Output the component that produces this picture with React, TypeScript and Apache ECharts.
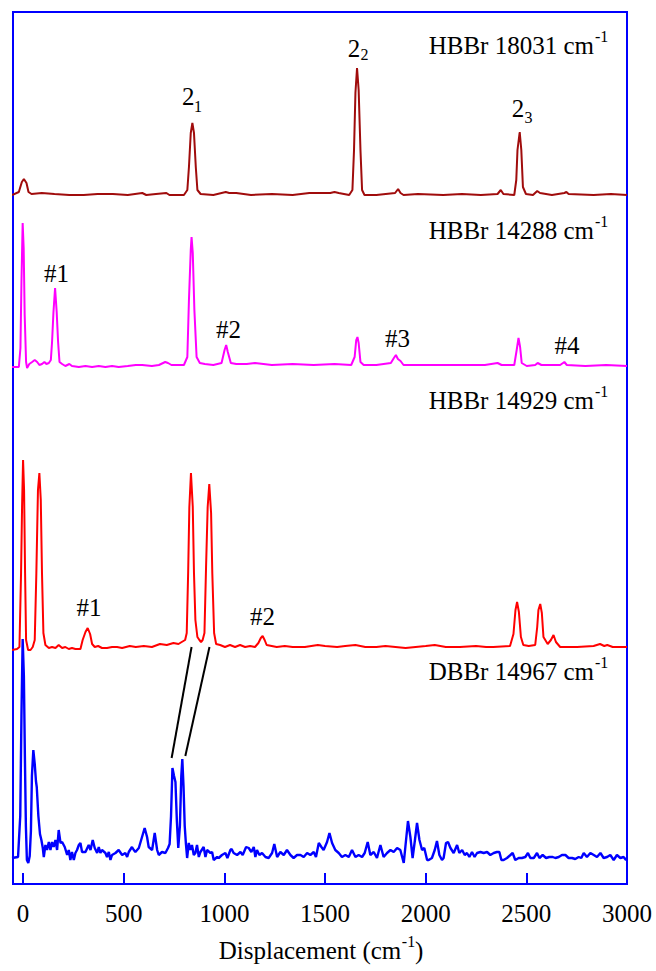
import React, { useEffect, useRef } from 'react';
import * as echarts from 'echarts';

// ---------- data (x: displacement in cm-1, y: intensity above each trace's own baseline, a.u.) ----------
const xTicks = [0, 500, 1000, 1500, 2000, 2500, 3000];

// vertical stacking offsets of each trace (a.u.)
const offsetHBBr18031 = 689;
const offsetHBBr14288 = 518;
const offsetHBBr14929 = 237;
const offsetDBBr14967 = 28;

const hbbr18031: number[][] = [
  [-55, 0], [-21, 3], [-6, 13], [4, 16], [17, 12], [27, 3], [42, 1], [93, 2], [156, 1], [230, 0], [301, 0],
  [370, 1], [446, 1], [520, 0], [592, 2], [612, 0], [660, 1], [712, 2], [727, 0], [799, 0], [816, 5],
  [824, 28], [833, 62], [841, 72], [849, 62], [858, 28], [866, 5], [882, 1], [945, 0], [1007, 3], [1024, 2],
  [1059, 2], [1132, 0], [1236, 1], [1339, 0], [1422, 2], [1526, 2], [1547, 3], [1568, 2], [1620, 0],
  [1636, 5], [1644, 45], [1651, 102], [1659, 127], [1667, 105], [1676, 45], [1684, 5], [1696, 0], [1755, 0],
  [1848, 2], [1863, 6], [1875, 2], [1890, 0], [1962, 1], [2087, 0], [2180, 1], [2274, 0], [2357, 1],
  [2373, 5], [2386, 1], [2440, 0], [2450, 15], [2456, 45], [2467, 63], [2475, 45], [2483, 8], [2498, 1],
  [2533, 0], [2554, 4], [2568, 2], [2627, 0], [2689, 2], [2699, 3], [2710, 1], [2834, 0], [2920, 1], [3000, 0],
];

const hbbr14288: number[][] = [
  [-55, -1], [-21, -1], [-13, 18], [-8, 84], [-2, 143], [3, 118], [8, 51], [15, 4], [20, -2], [31, 2],
  [45, 4], [58, 6], [70, 4], [81, 1], [94, 2], [106, 4], [116, 2], [128, 3], [138, 6], [144, 24], [151, 54],
  [159, 78], [167, 54], [174, 24], [181, 4], [194, 2], [210, 0], [230, 2], [243, 0], [277, -1], [310, 0],
  [343, -1], [376, 0], [409, -1], [442, 0], [475, -1], [520, 0], [560, 1], [592, 1], [640, 0], [675, 1],
  [706, 4], [720, 3], [737, 1], [799, 1], [816, 9], [824, 66], [833, 116], [837, 129], [843, 113], [851, 56],
  [862, 9], [878, 3], [903, 2], [945, 1], [986, 3], [1001, 16], [1009, 21], [1017, 14], [1032, 3], [1059, 2],
  [1111, 2], [1152, 3], [1236, 1], [1339, 2], [1443, 1], [1547, 2], [1630, 1], [1647, 9], [1655, 26],
  [1661, 29], [1667, 23], [1676, 4], [1692, 1], [1755, 1], [1827, 3], [1842, 8], [1852, 11], [1862, 7],
  [1875, 5], [1890, 1], [1962, 1], [2066, 1], [2170, 1], [2294, 1], [2357, 3], [2377, 1], [2440, 1],
  [2452, 16], [2461, 28], [2469, 19], [2477, 3], [2502, 0], [2544, 1], [2556, 3], [2575, 1], [2668, 1],
  [2689, 4], [2701, 1], [2793, 0], [2897, 1], [3000, 0],
];

const hbbr14929: number[][] = [
  [-55, -3], [-30, -2], [-18, 0], [-10, 74], [-5, 140], [0, 187], [5, 157], [10, 74], [15, 7], [25, -3],
  [37, -3], [48, 0], [58, 7], [66, 74], [74, 157], [81, 174], [88, 147], [94, 74], [101, 14], [111, 2],
  [128, -1], [144, 0], [161, -1], [177, 2], [194, -1], [210, 0], [227, -2], [243, -1], [260, -2], [285, -2],
  [296, 7], [310, 15], [321, 19], [333, 13], [343, 3], [356, 0], [373, 1], [392, -1], [417, -1], [442, 0],
  [467, 0], [492, -1], [530, 1], [560, 0], [600, 1], [640, 0], [680, 3], [714, 2], [747, 4], [772, 3],
  [788, 5], [805, 7], [813, 14], [820, 74], [826, 140], [834, 174], [843, 140], [849, 74], [856, 27],
  [866, 10], [876, 7], [884, 5], [892, 7], [901, 14], [909, 80], [917, 140], [925, 163], [934, 134],
  [940, 74], [949, 14], [959, 3], [979, 2], [1003, 0], [1028, 2], [1053, 0], [1078, 2], [1103, 0], [1128, 1],
  [1152, 0], [1169, 4], [1181, 9], [1190, 11], [1200, 7], [1210, 2], [1235, 1], [1260, 0], [1300, 1],
  [1339, 0], [1400, 0], [1464, 2], [1500, 1], [1560, 0], [1600, 1], [1651, 2], [1700, 0], [1755, 0],
  [1800, 1], [1850, 0], [1900, -1], [1950, 0], [2000, 1], [2045, 2], [2100, 0], [2170, 0], [2250, 1],
  [2300, 0], [2336, 0], [2419, 1], [2436, 13], [2446, 37], [2454, 45], [2463, 35], [2473, 10], [2485, 2],
  [2512, 1], [2544, 2], [2554, 20], [2560, 37], [2569, 43], [2577, 34], [2585, 10], [2606, 3], [2622, 7],
  [2635, 12], [2647, 5], [2668, 0], [2752, 0], [2834, 1], [2866, 3], [2887, 1], [2902, 2], [2929, 0], [3000, 0],
];

const dbbr14967: number[][] = [
  [-55, -2], [-25, -1], [-14, 40], [-8, 140], [-2, 217], [4, 180], [9, 100], [14, 30], [19, -4], [26, -7],
  [33, 0], [39, 25], [44, 80], [51, 106], [58, 92], [64, 75], [68, 69], [76, 40], [84, 22], [91, 16],
  [98, 8], [103, -1], [111, 11], [119, 6], [128, 14], [136, 6], [144, 14], [152, 9], [161, 16], [169, 6],
  [177, 26], [186, 13], [194, 14], [207, 9], [219, 1], [227, 6], [235, -4], [243, 4], [252, -4], [260, 3],
  [268, 6], [277, 11], [285, 13], [293, 4], [310, 4], [326, 11], [335, 6], [346, 16], [356, 8], [368, 3],
  [376, 9], [384, 3], [392, 6], [409, 3], [417, -1], [426, 4], [434, -4], [442, 1], [459, 3], [475, 6],
  [492, 1], [508, 3], [517, -1], [525, 4], [541, 9], [550, 6], [558, 4], [575, 8], [591, 19], [604, 28],
  [616, 19], [624, 9], [641, 6], [654, 23], [666, 6], [674, 1], [690, 4], [707, 3], [720, 8], [728, 12],
  [735, 40], [742, 88], [750, 80], [757, 74], [764, 35], [771, 8], [779, 30], [786, 80], [791, 97],
  [797, 70], [803, 30], [809, 12], [815, -2], [823, 13], [831, 6], [839, 11], [848, 1], [856, 3], [864, 11],
  [873, -1], [881, 4], [897, 9], [906, -1], [914, 6], [931, 3], [939, 4], [947, -4], [964, -1], [972, -2],
  [988, 1], [1005, 3], [1015, -2], [1030, 6], [1036, 7], [1046, 3], [1063, 1], [1080, 4], [1091, 1],
  [1108, 9], [1121, 8], [1134, 4], [1146, 9], [1154, -1], [1162, 6], [1174, 1], [1187, 3], [1204, -1],
  [1220, -2], [1237, 3], [1248, 12], [1262, -1], [1278, 4], [1295, 1], [1311, 6], [1328, 1], [1344, -2],
  [1361, 1], [1378, 1], [1394, -1], [1411, 3], [1427, 1], [1444, 4], [1455, -1], [1469, 13], [1482, 9],
  [1493, 6], [1510, 14], [1522, 23], [1535, 13], [1551, 6], [1568, 3], [1584, -1], [1601, 1], [1618, -1],
  [1634, 6], [1651, -1], [1667, 1], [1684, -1], [1697, 3], [1712, 14], [1725, 1], [1742, 4], [1758, -2],
  [1775, 11], [1791, -1], [1808, 3], [1825, 6], [1841, 4], [1858, 8], [1874, 6], [1891, -7], [1899, 9],
  [1912, 35], [1924, 19], [1935, -2], [1946, 15], [1957, 33], [1969, 16], [1982, 6], [1993, 8], [2007, -4],
  [2015, -4], [2031, -2], [2045, 6], [2056, 15], [2068, 1], [2081, -4], [2089, -2], [2101, 13], [2111, 14],
  [2123, 8], [2139, 3], [2156, 11], [2167, 3], [2181, 6], [2194, 1], [2205, 3], [2217, -1], [2230, 4],
  [2243, -1], [2255, 3], [2272, 4], [2288, 3], [2305, 4], [2321, 1], [2338, 3], [2354, 4], [2366, 4],
  [2376, -4], [2387, -4], [2404, -2], [2421, 1], [2432, 3], [2445, -4], [2462, -2], [2478, -2], [2495, -1],
  [2508, 3], [2520, -2], [2537, -2], [2553, 3], [2565, -2], [2581, 1], [2598, -2], [2614, -1], [2631, -1],
  [2644, -2], [2661, -1], [2677, 1], [2694, 1], [2710, -2], [2727, -2], [2743, -3], [2760, -1], [2773, -2],
  [2785, 3], [2801, -1], [2818, 3], [2835, 1], [2851, -1], [2868, 3], [2884, -2], [2901, -1], [2917, 1],
  [2934, -4], [2950, 1], [2967, -2], [2983, -1], [2995, -4], [3000, -2],
];

// correlation lines HBBr 14929 doublet -> DBBr 14967 doublet (stacked a.u.)
const connectorA: number[][] = [[837, 237], [738, 126]];
const connectorB: number[][] = [[926, 237], [806, 128]];

// ---------- rendering ----------
const FONT = 'Liberation Serif';

const shift = (data: number[][], off: number) => data.map(([x, y]) => [x, y + off]);

function txt(x: number, y: number, text: string, size = 25, align = 'center') {
  return {
    type: 'text',
    x,
    y,
    silent: true,
    style: {
      text,
      fontSize: size,
      fontFamily: FONT,
      fill: '#000',
      textAlign: align,
      textVerticalAlign: 'middle',
    },
  };
}

function nameLabel(yCenter: number, main: string) {
  return [txt(594, yCenter, main, 25, 'right'), txt(595, yCenter - 9, '-1', 16, 'left')];
}

function traceSeries(name: string, data: number[][], off: number, color: string, width: number) {
  return {
    name,
    type: 'line',
    data: shift(data, off),
    symbol: 'none',
    showSymbol: false,
    lineStyle: { color, width },
    itemStyle: { color },
    z: 3,
  };
}

function connector(data: number[][]) {
  return {
    type: 'line',
    data,
    symbol: 'none',
    showSymbol: false,
    lineStyle: { color: '#000', width: 2 },
    z: 4,
  };
}

const option = {
  animation: false,
  backgroundColor: '#fff',
  textStyle: { fontFamily: FONT },
  grid: {
    left: 13,
    right: 29,
    top: 12,
    bottom: 87,
    show: true,
    borderColor: '#0000ff',
    borderWidth: 2,
    backgroundColor: 'transparent',
  },
  xAxis: {
    type: 'value',
    min: -50,
    max: 3000,
    axisLine: { show: true, onZero: false, lineStyle: { color: '#0000ff', width: 2 } },
    axisTick: {
      show: true,
      inside: true,
      length: 11,
      customValues: xTicks,
      lineStyle: { color: '#0000ff', width: 2 },
    },
    axisLabel: {
      customValues: xTicks,
      formatter: (v: number) => String(v),
      fontSize: 25,
      fontFamily: FONT,
      color: '#000',
      margin: 17,
    },
    splitLine: { show: false },
  },
  yAxis: {
    type: 'value',
    min: 0,
    max: 872,
    show: false,
    splitLine: { show: false },
  },
  series: [
    traceSeries('HBBr 18031 cm-1', hbbr18031, offsetHBBr18031, '#a00c0c', 2),
    traceSeries('HBBr 14288 cm-1', hbbr14288, offsetHBBr14288, '#ff00ff', 2),
    traceSeries('HBBr 14929 cm-1', hbbr14929, offsetHBBr14929, '#ff0000', 2),
    traceSeries('DBBr 14967 cm-1', dbbr14967, offsetDBBr14967, '#0000ff', 2.4),
    connector(connectorA),
    connector(connectorB),
  ],
  graphic: {
    elements: [
      ...nameLabel(45, 'HBBr 18031 cm'),
      ...nameLabel(230.5, 'HBBr 14288 cm'),
      ...nameLabel(400.5, 'HBBr 14929 cm'),
      ...nameLabel(671.5, 'DBBr 14967 cm'),
      // 2_1, 2_2, 2_3
      txt(188.3, 96, '2'),
      txt(198, 106.5, '1', 16),
      txt(354, 48, '2'),
      txt(364.5, 54.5, '2', 16),
      txt(518, 108, '2'),
      txt(528.5, 117, '3', 16),
      // HBBr 14288 markers
      txt(56.5, 273.7, '#1'),
      txt(228.5, 329, '#2'),
      txt(397.5, 338.7, '#3'),
      txt(567, 345, '#4'),
      // HBBr 14929 markers
      txt(89, 607.5, '#1'),
      txt(262.4, 616, '#2'),
      // axis name
      txt(401.3, 950, 'Displacement (cm', 25, 'right'),
      txt(401.8, 941, '-1', 16, 'left'),
      txt(415, 950, ')', 25, 'left'),
    ],
  },
};

export default function App() {
  const ref = useRef<HTMLDivElement>(null);
  useEffect(() => {
    if (!ref.current) return;
    const chart = echarts.init(ref.current, null, { renderer: 'svg' });
    chart.setOption(option as any);
    return () => chart.dispose();
  }, []);
  return (
    <div
      ref={ref}
      style={{ position: 'fixed', left: 0, top: 0, width: 656, height: 971, background: '#fff' }}
    />
  );
}
